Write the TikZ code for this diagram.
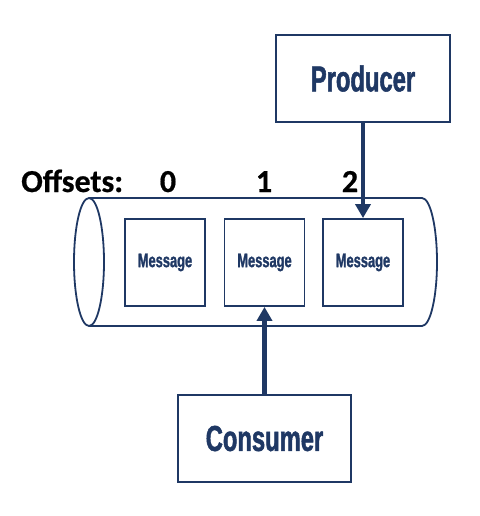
\documentclass[tikz,border=0pt]{standalone}
\usepackage{fontspec}
\usetikzlibrary{arrows.meta}
\newfontfamily\condfont[FakeStretch=0.66,FakeBold=1.4]{Liberation Sans Bold}
\newfontfamily\labfont[FakeBold=0.6]{Carlito Bold}
\definecolor{navy}{RGB}{31,56,100}
\begin{document}
\begin{tikzpicture}[x=1pt,y=-1pt,
  msgbox/.style={draw=navy,line width=1.8pt,minimum width=80pt,minimum height=87pt,inner sep=0pt,
    font=\condfont\fontsize{19.5}{19.5}\selectfont,text=navy},
  rolebox/.style={draw=navy,line width=1.8pt,minimum height=87pt,inner sep=0pt,
    font=\condfont\fontsize{36}{36}\selectfont,text=navy},
  offlab/.style={font=\labfont\fontsize{32}{32}\selectfont,inner sep=0pt},
  flow/.style={draw=navy,line width=4.5pt,-{Triangle[length=14pt,width=15pt]}}]
\useasboundingbox (0,0) rectangle (479,516);
% cylinder
\coordinate (cylL) at (89,262);
\draw[navy,line width=1.8pt] (89,198) -- (422,198) arc[start angle=90,end angle=-90,x radius=15,y radius=-64] -- (89,326);
\draw[navy,line width=1.8pt] (cylL) ellipse[x radius=15,y radius=64];
% messages
\node[msgbox] (m1) at (165,262.5) {Message};
\node[msgbox] (m2) at (264.5,262.5) {Message};
\node[msgbox] (m3) at (363,262.5) {Message};
% producer / consumer
\node[rolebox,minimum width=174pt] (prod) at (363,78.5) {Producer};
\node[rolebox,minimum width=173pt] (cons) at (264.5,438.5) {Consumer};
% offsets
\node[offlab,anchor=base west] (off) at (21,192) {Offsets:};
\node[offlab,anchor=base] (o0) at (168,192) {0};
\node[offlab,anchor=base] (o1) at (264,192) {1};
\node[offlab,anchor=base] (o2) at (350,192) {2};
% arrows
\draw[flow] (prod.south) -- (m3.north);
\draw[flow] (cons.north) -- (m2.south);
\end{tikzpicture}
\end{document}
